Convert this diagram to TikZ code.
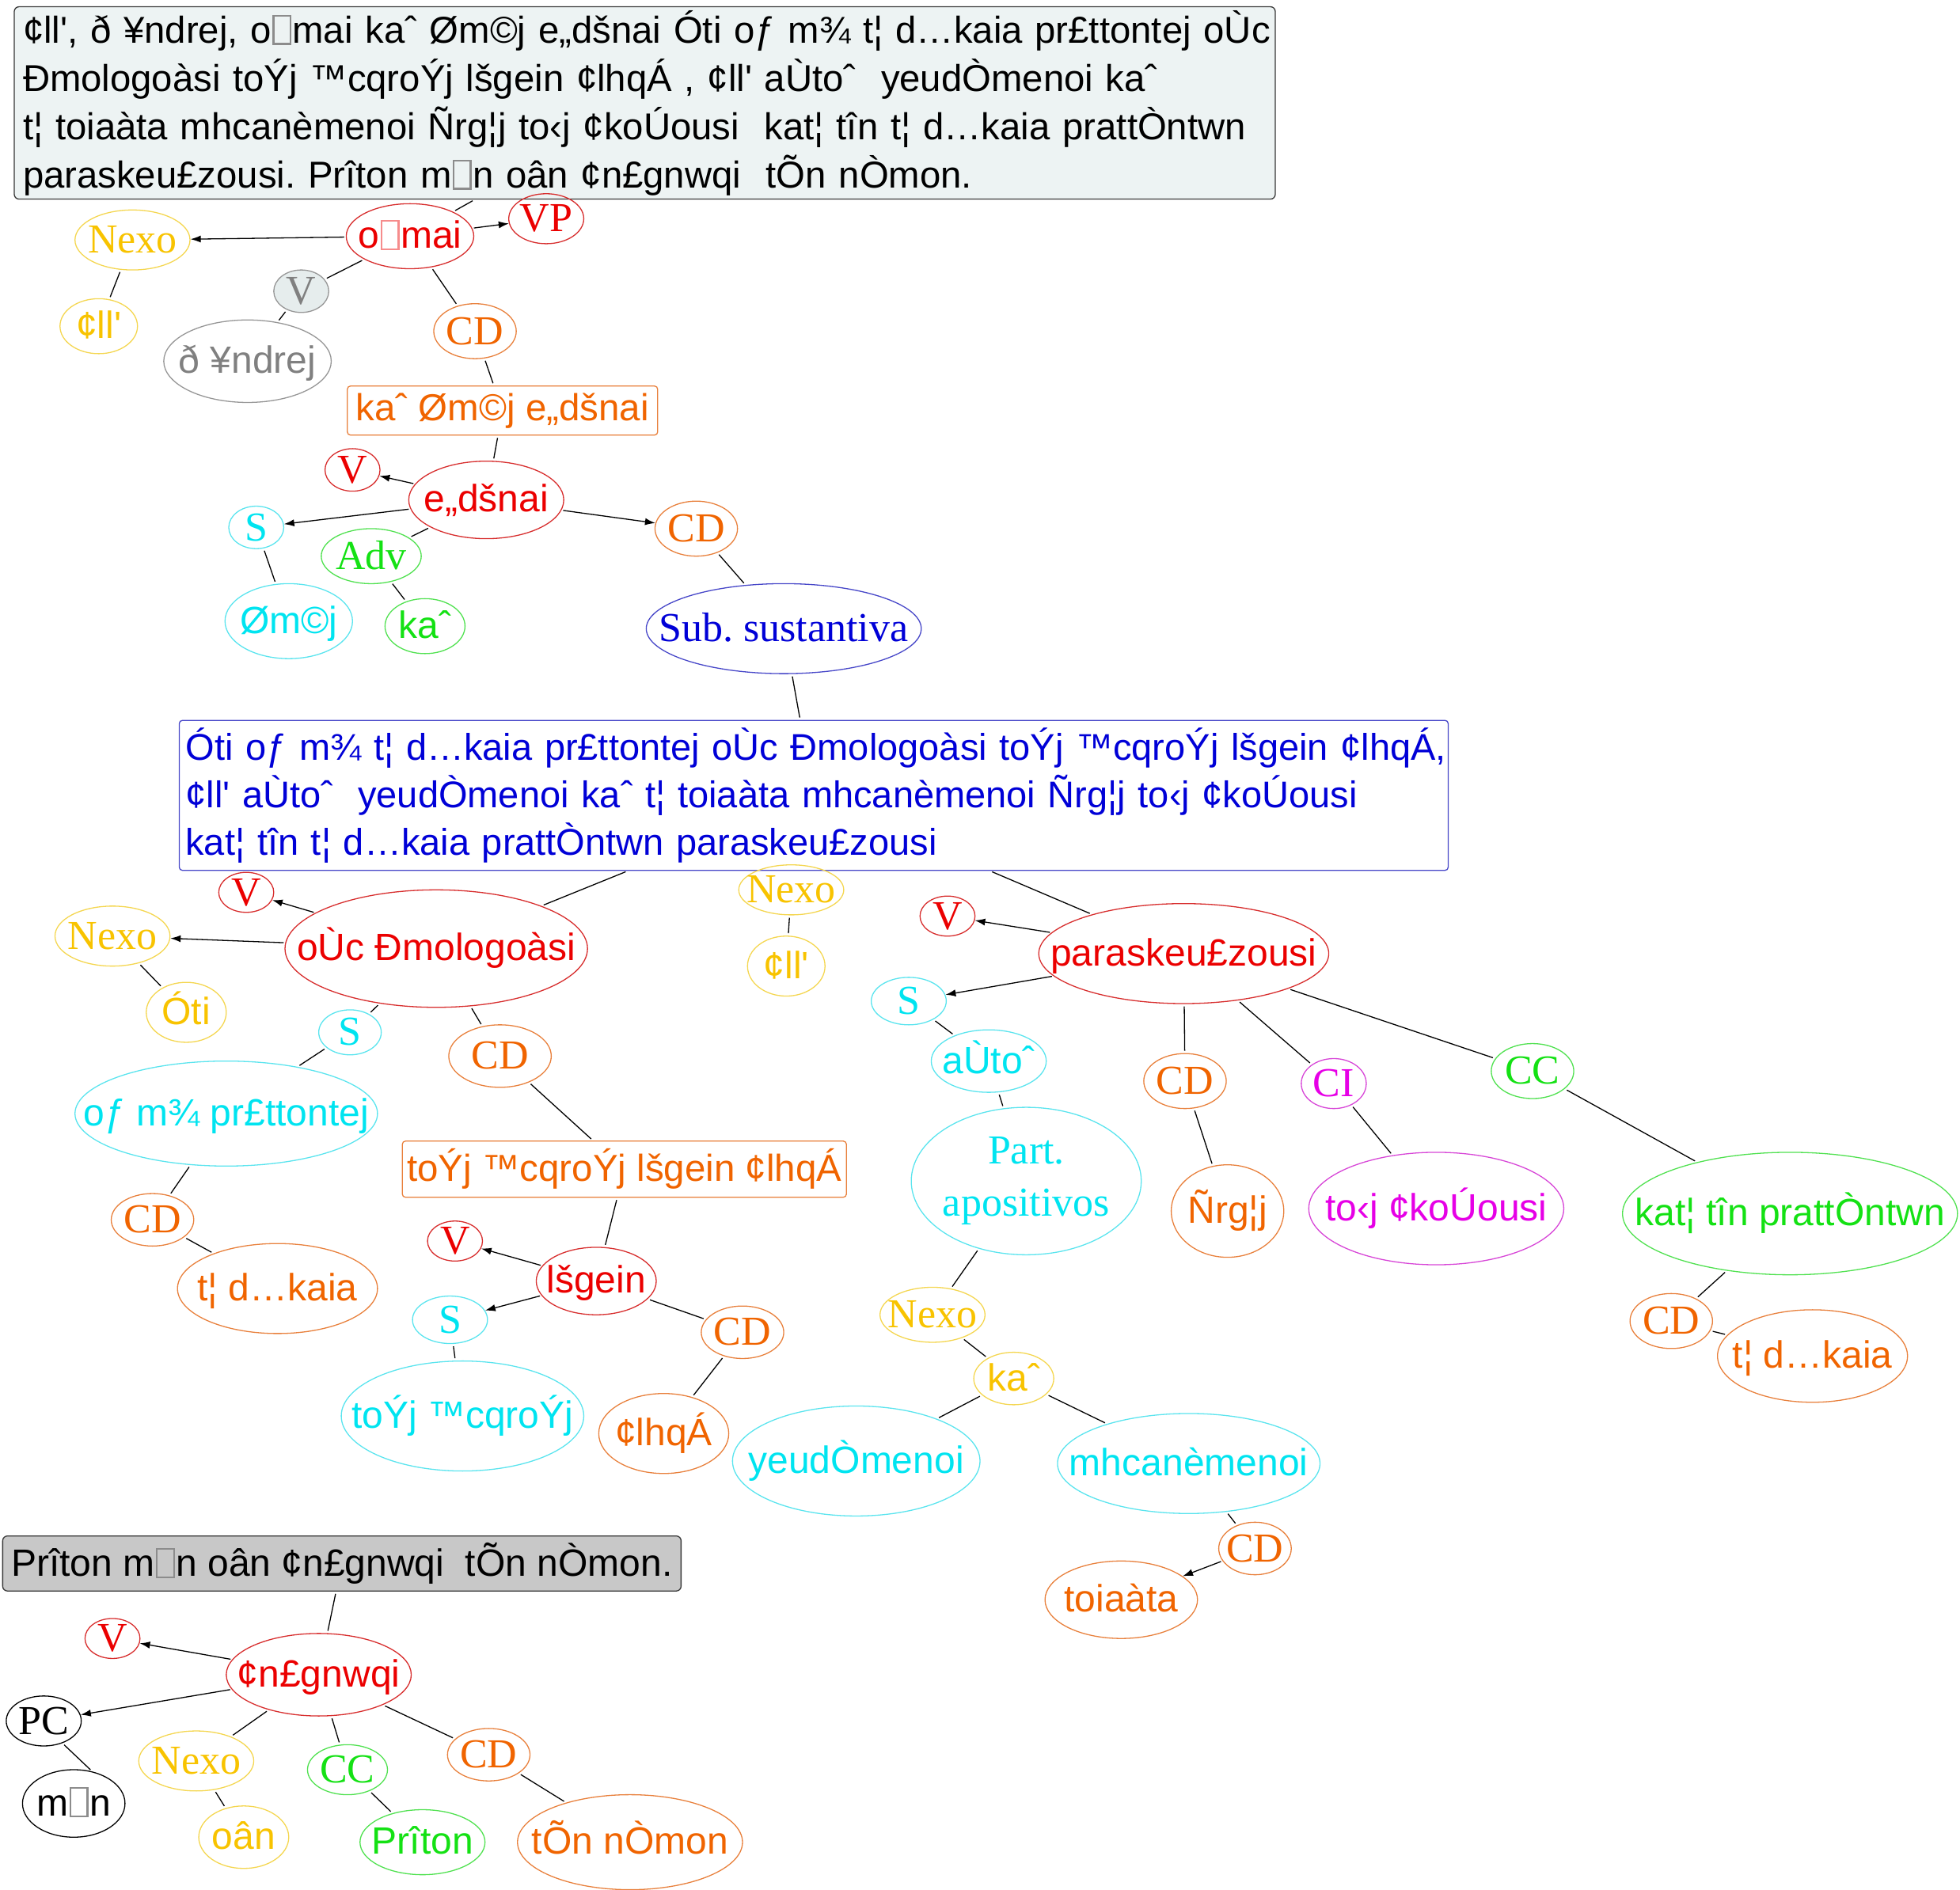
\documentclass[tikz,border=0pt]{standalone}
\usepackage{fontspec}
\newfontfamily\gk{Liberation Sans}[Ligatures=TeXOff]
\newfontfamily\sr{Liberation Serif}
\usetikzlibrary{shapes.geometric,arrows.meta}
\definecolor{redT}{RGB}{235,0,0}\definecolor{redD}{RGB}{215,45,45}
\definecolor{orgT}{RGB}{240,100,0}\definecolor{orgD}{RGB}{232,128,60}
\definecolor{cyaT}{RGB}{0,228,240}\definecolor{cyaD}{RGB}{90,228,238}
\definecolor{golT}{RGB}{248,195,0}\definecolor{golD}{RGB}{244,214,80}
\definecolor{grnT}{RGB}{20,225,20}\definecolor{grnD}{RGB}{80,225,80}
\definecolor{magT}{RGB}{230,0,230}\definecolor{magD}{RGB}{215,70,215}
\definecolor{bluT}{RGB}{0,0,215}\definecolor{bluD}{RGB}{70,70,200}
\definecolor{gryT}{RGB}{128,128,128}\definecolor{gryD}{RGB}{150,150,150}
\definecolor{topfill}{RGB}{237,243,243}\definecolor{vfill}{RGB}{230,237,237}
\definecolor{gboxfill}{RGB}{200,200,200}\definecolor{dkline}{RGB}{55,55,55}
\newcommand\miss{{\hspace{0.03em}\color{.!45!white}\setlength\fboxsep{0pt}\setlength\fboxrule{0.05em}\fbox{\rule{0pt}{0.7em}\hspace{0.4em}}\hspace{0.03em}}}
\newcommand\lb[1]{\raisebox{-0.32em}[0pt][0pt]{\makebox[0pt]{#1}}}
\frenchspacing
\tikzset{
  el/.style={ellipse, draw, inner sep=0pt, line width=1.3pt},
  sz/.style 2 args={minimum width={3.1582pt*#1}, minimum height={3.1582pt*#2}},
  fA/.style={font=\gk\frenchspacing\fontsize{48}{58}\selectfont},
  fS/.style={font=\sr\fontsize{52}{60}\selectfont},
  cR/.style={draw=redD,text=redT},
  cO/.style={draw=orgD,text=orgT},
  cC/.style={draw=cyaD,text=cyaT},
  cG/.style={draw=golD,text=golT},
  cGr/.style={draw=grnD,text=grnT},
  cM/.style={draw=magD,text=magT},
  cB/.style={draw=bluD,text=bluT},
  cK/.style={draw=black,text=black},
  cGy/.style={draw=gryD,text=gryT},
  obox/.style={rectangle, draw=orgD, text=orgT, rounded corners=4pt, line width=1.3pt, inner sep=0pt, font=\gk\frenchspacing\fontsize{47.5}{58}\selectfont},
  ln/.style={line width=1.3pt, shorten <=3pt, shorten >=3pt},
  ar/.style={line width=1.3pt, shorten <=2pt, -{Latex[length=13pt,width=9pt]}},
}
\begin{document}
\begin{tikzpicture}[x=1.5791pt,y=-1.5791pt]
\useasboundingbox (0,0) rectangle (1568,1512);
% boxes
\node[rectangle, draw=dkline, fill=topfill, rounded corners=6pt, line width=1.3pt,
  anchor=north west, minimum width=1593pt, minimum height=243pt, inner xsep=11pt, inner ysep=0pt,
  text width=1571pt, align=left, font=\gk\frenchspacing\fontsize{47.3}{61}\selectfont] (top) at (11,5)
  {\mbox{¢ll', ð ¥ndrej, o\miss{}mai kaˆ Øm©j e„dšnai Óti oƒ m¾ t¦ d…kaia pr£ttontej oÙc}\\
   \mbox{Ðmologoàsi toÝj ™cqroÝj lšgein ¢lhqÁ , ¢ll' aÙtoˆ\ \ yeudÒmenoi kaˆ}\\
   \mbox{t¦ toiaàta mhcanèmenoi Ñrg¦j to‹j ¢koÚousi\ \ kat¦ tîn t¦ d…kaia prattÒntwn}\\
   \mbox{paraskeu£zousi. Prîton m\miss{}n oân ¢n£gnwqi\ \ tÕn nÒmon.}};
\node[rectangle, draw=bluD, fill=white, text=bluT, rounded corners=4pt, line width=1.3pt,
  anchor=north west, minimum width=1603pt, minimum height=189.5pt, inner xsep=8pt, inner ysep=0pt,
  text width=1587pt, align=left, font=\gk\frenchspacing\fontsize{47}{60}\selectfont] (blue) at (143,576)
  {\mbox{Óti oƒ m¾ t¦ d…kaia pr£ttontej oÙc Ðmologoàsi toÝj ™cqroÝj lšgein ¢lhqÁ,}\\
   \mbox{¢ll' aÙtoˆ\ \ yeudÒmenoi kaˆ t¦ toiaàta mhcanèmenoi Ñrg¦j to‹j ¢koÚousi}\\
   \mbox{kat¦ tîn t¦ d…kaia prattÒntwn paraskeu£zousi}};
\node[obox, minimum width=392pt, minimum height=62pt] (boxA) at (402,328.5) {kaˆ Øm©j e„dšnai};
\node[obox, minimum width=561pt, minimum height=71pt] (boxB) at (499.5,935.5) {toÝj ™cqroÝj lšgein ¢lhqÁ};
\node[rectangle, draw=dkline, fill=gboxfill, text=black, rounded corners=6pt, line width=1.3pt, inner sep=0pt,
  minimum width=857pt, minimum height=69.5pt, fA] (gbox) at (273.5,1251) {Prîton m\miss{}n oân ¢n£gnwqi\ \ tÕn nÒmon.};
% top tree
\node[el,cG,fS,sz={46}{24}] (nexoA) at (106,192) {\lb{Nexo}};
\node[el,cG,fA,sz={31}{22}] (allA) at (79,261) {\lb{¢ll'}};
\node[el,cGy,fill=vfill,fS,sz={22}{17}] (vA) at (241,233) {\lb{V}};
\node[el,cGy,fA,sz={67}{33}] (andrej) at (198,289) {\lb{ð ¥ndrej}};
\node[el,cR,fA,sz={51}{26}] (omai) at (328,189) {\lb{o\miss{}mai}};
\node[el,cR,fS,sz={30}{20}] (vp) at (437,175) {\lb{VP}};
\node[el,cO,fS,sz={33}{22}] (cdA) at (380,265) {\lb{CD}};
\node[el,cR,fS,sz={22}{17}] (vB) at (282,376) {\lb{V}};
\node[el,cR,fA,sz={62}{31}] (eidenai) at (389,400) {\lb{e„dšnai}};
\node[el,cC,fS,sz={22}{17}] (sA) at (205,422) {\lb{S}};
\node[el,cGr,fS,sz={40}{22}] (adv) at (297,445) {\lb{Adv}};
\node[el,cO,fS,sz={33}{22}] (cdB) at (557,423) {\lb{CD}};
\node[el,cC,fA,sz={51}{30}] (umas) at (231,497) {\lb{Øm©j}};
\node[el,cGr,fA,sz={32}{22}] (kaiA) at (340,501) {\lb{kaˆ}};
\node[el,cB,fS,sz={110}{36}] (sub) at (627,503) {\lb{Sub. sustantiva}};
% left middle
\node[el,cR,fS,sz={22}{16}] (vC) at (197,714) {\lb{V}};
\node[el,cR,fA,sz={121}{47}] (ouch) at (349,759) {\lb{oÙc Ðmologoàsi}};
\node[el,cG,fS,sz={46}{24}] (nexoB) at (90,749) {\lb{Nexo}};
\node[el,cG,fA,sz={32}{24}] (oti) at (149,810) {\lb{Óti}};
\node[el,cC,fS,sz={25}{18}] (sB) at (280,826) {\lb{S}};
\node[el,cO,fS,sz={41}{25}] (cdC) at (400,845) {\lb{CD}};
\node[el,cC,fA,sz={121}{42}] (oimh) at (181,891) {\lb{oƒ m¾ pr£ttontej}};
\node[el,cO,fS,sz={33}{21}] (cdD) at (122,976) {\lb{CD}};
\node[el,cO,fA,sz={80}{36}] (dikA) at (222,1031) {\lb{t¦ d…kaia}};
\node[el,cR,fS,sz={22}{16}] (vD) at (364,993) {\lb{V}};
\node[el,cR,fA,sz={48}{27}] (legein) at (477,1025) {\lb{lšgein}};
\node[el,cC,fS,sz={30}{19}] (sC) at (360,1056) {\lb{S}};
\node[el,cO,fS,sz={33}{21}] (cdE) at (594,1066) {\lb{CD}};
\node[el,cC,fA,sz={97}{44}] (exthrous) at (370,1133) {\lb{toÝj ™cqroÝj}};
\node[el,cO,fA,sz={52}{32}] (alhqh) at (531,1147) {\lb{¢lhqÁ}};
% center
\node[el,cG,fS,sz={42}{20}] (nexoC) at (633,712) {\lb{Nexo}};
\node[el,cG,fA,sz={31}{24}] (allB) at (629,773) {\lb{¢ll'}};
% right
\node[el,cR,fS,sz={22}{16}] (vE) at (758,733) {\lb{V}};
\node[el,cR,fA,sz={116}{40}] (para) at (947,763) {\lb{paraskeu£zousi}};
\node[el,cC,fS,sz={30}{19}] (sD) at (727,801) {\lb{S}};
\node[el,cC,fA,sz={46}{25}] (autoi) at (791,849) {\lb{aÙtoˆ}};
\node[el,cO,fS,sz={33}{22}] (cdF) at (948,865) {\lb{CD}};
\node[el,cM,fS,sz={26}{20}] (ci) at (1067,867) {\lb{CI}};
\node[el,cGr,fS,sz={33}{22}] (ccA) at (1226,857) {\lb{CC}};
\node[el,cC,fS,sz={92}{59}] (part) at (821,945)
  {\raisebox{-0.1em}[0pt][0pt]{\makebox[0pt]{\begin{tabular}{@{}c@{}}Part.\\[6pt]apositivos\end{tabular}}}};
\node[el,cO,fA,sz={45}{37}] (orgas) at (982,969) {\lb{Ñrg¦j}};
\node[el,cM,fA,sz={102}{45}] (akouousi) at (1149,967) {\lb{to‹j ¢koÚousi}};
\node[el,cGr,fA,sz={134}{49}] (kata) at (1432,971) {\lb{kat¦ tîn prattÒntwn}};
\node[el,cG,fS,sz={42}{22}] (nexoD) at (746,1052) {\lb{Nexo}};
\node[el,cG,fA,sz={32}{21}] (kaiB) at (811,1103) {\lb{kaˆ}};
\node[el,cC,fA,sz={99}{44}] (yeud) at (685,1169) {\lb{yeudÒmenoi}};
\node[el,cC,fA,sz={105}{40}] (mhcan) at (951,1171) {\lb{mhcanèmenoi}};
\node[el,cO,fS,sz={33}{22}] (cdG) at (1337,1057) {\lb{CD}};
\node[el,cO,fA,sz={76}{37}] (dikB) at (1450,1085) {\lb{t¦ d…kaia}};
\node[el,cO,fS,sz={29}{21}] (cdH) at (1004,1239) {\lb{CD}};
\node[el,cO,fA,sz={61}{31}] (toiauta) at (897,1280) {\lb{toiaàta}};
% bottom
\node[el,cR,fS,sz={22}{16}] (vF) at (90,1311) {\lb{V}};
\node[el,cR,fA,sz={74}{33}] (anagn) at (255,1340) {\lb{¢n£gnwqi}};
\node[el,cK,fS,sz={30}{20}] (pc) at (35,1377) {\lb{PC}};
\node[el,cG,fS,sz={46}{24}] (nexoE) at (157,1409) {\lb{Nexo}};
\node[el,cGr,fS,sz={32}{20}] (ccB) at (278,1416) {\lb{CC}};
\node[el,cO,fS,sz={33}{21}] (cdI) at (391,1404) {\lb{CD}};
\node[el,cK,fA,sz={41}{27}] (men) at (59,1443) {\lb{m\miss{}n}};
\node[el,cG,fA,sz={36}{25}] (oun) at (195,1470) {\lb{oân}};
\node[el,cGr,fA,sz={50}{26}] (prwton) at (338,1474) {\lb{Prîton}};
\node[el,cO,fA,sz={90}{38}] (nomon) at (504,1474) {\lb{tÕn nÒmon}};
% edges
\draw[ln] (top) -- (omai);
\draw[ar] (omai) -- (nexoA);
\draw[ar] (omai) -- (vp);
\draw[ln] (omai) -- (vA);
\draw[ln] (vA) -- (andrej);
\draw[ln] (nexoA) -- (allA);
\draw[ln] (omai) -- (cdA);
\draw[ln] (cdA) -- (boxA);
\draw[ln] (boxA) -- (eidenai);
\draw[ar] (eidenai) -- (vB);
\draw[ar] (eidenai) -- (sA);
\draw[ar] (eidenai) -- (cdB);
\draw[ln] (eidenai) -- (adv);
\draw[ln] (sA) -- (umas);
\draw[ln] (adv) -- (kaiA);
\draw[ln] (cdB) -- (sub);
\draw[ln] (sub) -- (blue);
\draw[ln] (blue) -- (ouch);
\draw[ln] (blue) -- (para);
\draw[ar] (ouch) -- (vC);
\draw[ar] (ouch) -- (nexoB);
\draw[ln] (nexoB) -- (oti);
\draw[ln] (ouch) -- (sB);
\draw[ln] (sB) -- (oimh);
\draw[ln] (ouch) -- (cdC);
\draw[ln] (cdC) -- (boxB);
\draw[ln] (oimh) -- (cdD);
\draw[ln] (cdD) -- (dikA);
\draw[ln] (boxB) -- (legein);
\draw[ar] (legein) -- (vD);
\draw[ar] (legein) -- (sC);
\draw[ln] (legein) -- (cdE);
\draw[ln] (sC) -- (exthrous);
\draw[ln] (cdE) -- (alhqh);
\draw[ln] (nexoC) -- (allB);
\draw[ar] (para) -- (vE);
\draw[ar] (para) -- (sD);
\draw[ln] (sD) -- (autoi);
\draw[ln] (autoi) -- (part);
\draw[ln] (part) -- (nexoD);
\draw[ln] (nexoD) -- (kaiB);
\draw[ln] (kaiB) -- (yeud);
\draw[ln] (kaiB) -- (mhcan);
\draw[ln] (mhcan) -- (cdH);
\draw[ar] (cdH) -- (toiauta);
\draw[ln] (para) -- (cdF);
\draw[ln] (cdF) -- (orgas);
\draw[ln] (para) -- (ci);
\draw[ln] (ci) -- (akouousi);
\draw[ln] (para) -- (ccA);
\draw[ln] (ccA) -- (kata);
\draw[ln] (kata) -- (cdG);
\draw[ln] (cdG) -- (dikB);
\draw[ln] (gbox) -- (anagn);
\draw[ar] (anagn) -- (vF);
\draw[ar] (anagn) -- (pc);
\draw[ln] (anagn) -- (nexoE);
\draw[ln] (anagn) -- (ccB);
\draw[ln] (anagn) -- (cdI);
\draw[ln] (pc.-50) -- (men.60);
\draw[ln] (nexoE) -- (oun);
\draw[ln] (ccB) -- (prwton);
\draw[ln] (cdI) -- (nomon);
\end{tikzpicture}
\end{document}
